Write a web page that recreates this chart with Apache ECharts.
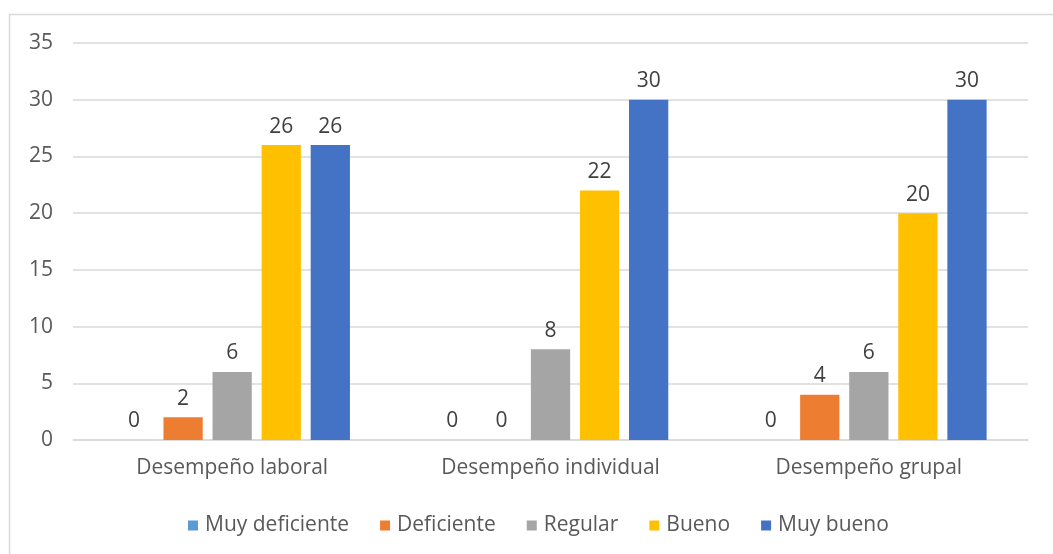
<!DOCTYPE html>
<html>
<head>
<meta charset="utf-8">
<script src="https://cdn.jsdelivr.net/npm/echarts@6/dist/echarts.min.js"></script>
<style>
html,body{margin:0;padding:0;background:#fff;}
#chart{width:1053px;height:554px;}
</style>
</head>
<body>
<div id="chart"></div>
<script>
// Evaluación del desempeño por dimensión
const categories = ['Desempeño laboral', 'Desempeño individual', 'Desempeño grupal'];
const seriesNames = ['Muy deficiente', 'Deficiente', 'Regular', 'Bueno', 'Muy bueno'];
const muyDeficiente = [0, 0, 0];
const deficiente = [2, 0, 4];
const regular = [6, 8, 6];
const bueno = [26, 22, 20];
const muyBueno = [26, 30, 30];
const colors = ['#5B9BD5', '#ED7D31', '#A5A5A5', '#FFC000', '#4472C4'];

const values = [muyDeficiente, deficiente, regular, bueno, muyBueno];
const fontFamily = '"Open Sans", Lato, sans-serif';
const fontSize = 21;

const chart = echarts.init(document.getElementById('chart'), null, {renderer: 'canvas'});
chart.setOption({
  animation: false,
  textStyle: {fontFamily: fontFamily},
  graphic: [{
    type: 'rect',
    shape: {x: 9.5, y: 14.5, width: 1060, height: 560},
    style: {fill: 'none', stroke: '#d9d9d9', lineWidth: 1.5},
    silent: true
  }],
  grid: {left: 73, right: 25, top: 43, bottom: 114},
  legend: {
    bottom: 13,
    left: 183,
    itemWidth: 10,
    itemHeight: 10,
    itemGap: 31,
    icon: 'rect',
    textStyle: {color: '#595959', fontSize: fontSize, fontFamily: fontFamily, padding: [0, 0, 0, 2]},
    data: seriesNames
  },
  xAxis: {
    type: 'category',
    data: categories,
    axisLine: {show: true, lineStyle: {color: '#d9d9d9', width: 1.5}},
    axisTick: {show: false},
    axisLabel: {color: '#595959', fontSize: fontSize, margin: 18, fontFamily: fontFamily}
  },
  yAxis: {
    type: 'value',
    min: 0,
    max: 35,
    interval: 5,
    axisLine: {show: false},
    axisTick: {show: false},
    splitLine: {lineStyle: {color: '#d9d9d9', width: 1.5}},
    axisLabel: {color: '#595959', fontSize: fontSize, margin: 20, fontFamily: fontFamily}
  },
  series: seriesNames.map((name, i) => ({
    name: name,
    type: 'bar',
    data: values[i],
    barGap: '25%',
    barCategoryGap: '26%',
    itemStyle: {color: colors[i]},
    label: {
      show: true,
      position: 'top',
      distance: 8,
      color: '#404040',
      fontSize: fontSize,
      fontFamily: fontFamily
    }
  }))
});
</script>
</body>
</html>
